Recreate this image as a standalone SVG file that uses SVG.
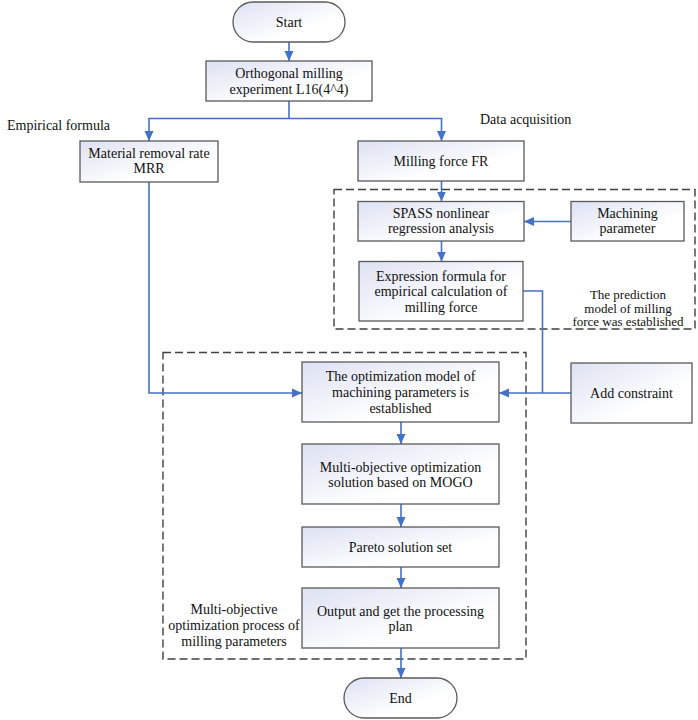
<svg xmlns="http://www.w3.org/2000/svg" width="698" height="720" viewBox="0 0 698 720">
<defs>
<linearGradient id="g" x1="0" y1="0" x2="1" y2="1">
<stop offset="0" stop-color="#dde1f2"/>
<stop offset="0.65" stop-color="#ffffff"/>
</linearGradient>
<marker id="ah" viewBox="0 0 10 10" refX="10" refY="5" markerWidth="10" markerHeight="10" markerUnits="userSpaceOnUse" orient="auto">
<path d="M0,0.5 L10,5 L0,9.5 Z" fill="#4472c4"/>
</marker>
<style>
.box{fill:url(#g);stroke:#5a5a5a;stroke-width:1.3}
.t{font-family:"Liberation Serif","Times New Roman",serif;font-size:14px;fill:#111111;text-anchor:middle}
.s{font-family:"Liberation Serif","Times New Roman",serif;font-size:13px;fill:#111111;text-anchor:middle}
.lab{font-family:"Liberation Serif","Times New Roman",serif;font-size:14px;fill:#111111}
.c{fill:none;stroke:#4472c4;stroke-width:1.6}
.ca{fill:none;stroke:#4472c4;stroke-width:1.6;marker-end:url(#ah)}
.d{fill:none;stroke:#404040;stroke-width:1.4;stroke-dasharray:8,4}
</style>
</defs>
<rect width="698" height="720" fill="#ffffff"/>

<g id="groups">
<rect class="d" x="334" y="189.5" width="361" height="139.5"/>
<rect class="d" x="163" y="352.5" width="363" height="306.5"/>
</g>

<g id="connectors">
<line class="ca" x1="289" y1="42" x2="289" y2="61"/>
<polyline class="c" points="289,101 289,118.5"/>
<polyline class="ca" points="149,118.5 149,141"/>
<polyline class="ca" points="441.5,118.5 441.5,141"/>
<line class="c" x1="148.2" y1="118.5" x2="442.3" y2="118.5"/>
<line class="ca" x1="441.5" y1="181" x2="441.5" y2="201.5"/>
<line class="ca" x1="571" y1="221.5" x2="524" y2="221.5"/>
<line class="ca" x1="441.5" y1="241" x2="441.5" y2="261.5"/>
<polyline class="c" points="523,291 542.5,291 542.5,393"/>
<line class="ca" x1="571" y1="393" x2="499" y2="393"/>
<polyline class="ca" points="149,182 149,393 302,393"/>
<line class="ca" x1="401" y1="422" x2="401" y2="444"/>
<line class="ca" x1="401" y1="504" x2="401" y2="527"/>
<line class="ca" x1="401" y1="567" x2="401" y2="588"/>
<line class="ca" x1="401" y1="648" x2="401" y2="678"/>
</g>

<g id="start">
<rect class="box" x="233" y="2" width="112" height="40" rx="20" ry="20"/>
<text class="t" x="289" y="26.5">Start</text>
</g>
<g id="orthogonal">
<rect class="box" x="206" y="61" width="166" height="40"/>
<text class="t" x="289" y="77.5">Orthogonal milling</text>
<text class="t" x="289" y="94">experiment L16(4^4)</text>
</g>
<g id="mrr">
<rect class="box" x="80" y="141" width="138" height="41"/>
<text class="t" x="149" y="157.5">Material removal rate</text>
<text class="t" x="149" y="173">MRR</text>
</g>
<g id="milling-force">
<rect class="box" x="358" y="141" width="166" height="40"/>
<text class="t" x="441" y="166">Milling force FR</text>
</g>
<g id="spass">
<rect class="box" x="358" y="201.5" width="166" height="39.5"/>
<text class="t" x="441" y="217.5">SPASS nonlinear</text>
<text class="t" x="441" y="233">regression analysis</text>
</g>
<g id="machining-parameter">
<rect class="box" x="571" y="201.5" width="113" height="39.5"/>
<text class="t" x="627.5" y="217.5">Machining</text>
<text class="t" x="627.5" y="233">parameter</text>
</g>
<g id="expression">
<rect class="box" x="359" y="261.5" width="164" height="59.5"/>
<text class="t" x="441" y="280.5">Expression formula for</text>
<text class="t" x="441" y="296">empirical calculation of</text>
<text class="t" x="441" y="311.5">milling force</text>
</g>
<g id="add-constraint">
<rect class="box" x="571" y="363" width="121" height="60"/>
<text class="t" x="631.5" y="397.5">Add constraint</text>
</g>
<g id="optimization-model">
<rect class="box" x="302" y="362" width="197" height="60"/>
<text class="t" x="400.5" y="381">The optimization model of</text>
<text class="t" x="400.5" y="397">machining parameters is</text>
<text class="t" x="400.5" y="413">established</text>
</g>
<g id="mogo">
<rect class="box" x="302" y="444" width="197" height="60"/>
<text class="t" x="400.5" y="472">Multi-objective optimization</text>
<text class="t" x="400.5" y="486.5">solution based on MOGO</text>
</g>
<g id="pareto">
<rect class="box" x="302" y="527" width="197" height="40"/>
<text class="t" x="400.5" y="551.5">Pareto solution set</text>
</g>
<g id="output">
<rect class="box" x="302" y="588" width="197" height="60"/>
<text class="t" x="400.5" y="616">Output and get the processing</text>
<text class="t" x="400.5" y="630.5">plan</text>
</g>
<g id="end">
<rect class="box" x="344" y="678" width="113" height="40" rx="20" ry="20"/>
<text class="t" x="400.5" y="702.5">End</text>
</g>

<g id="labels">
<text class="lab" x="7" y="129.5">Empirical formula</text>
<text class="lab" x="480" y="123.5">Data acquisition</text>
<text class="s" x="628" y="299">The prediction</text>
<text class="s" x="628" y="312.5">model of milling</text>
<text class="s" x="628" y="326">force was established</text>
<text class="t" x="234" y="613.5">Multi-objective</text>
<text class="t" x="234" y="629.5">optimization process of</text>
<text class="t" x="234" y="645.5">milling parameters</text>
</g>
</svg>
